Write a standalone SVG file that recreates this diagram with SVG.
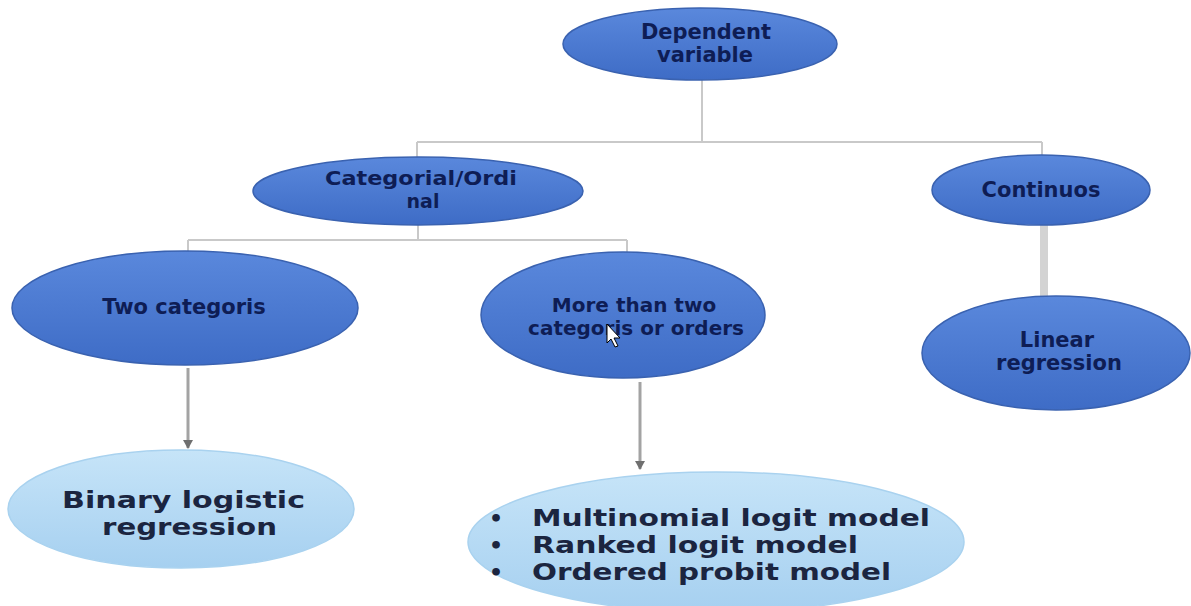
<svg xmlns="http://www.w3.org/2000/svg" width="1191" height="606" viewBox="0 0 1191 606">
<style>
.dark{stroke:#3a62b0;stroke-width:1.5}
.light{stroke:#a9d2ef;stroke-width:1.5}
.t{font-family:"DejaVu Sans","Liberation Sans",sans-serif;font-weight:bold;fill:#0e1d55;text-anchor:middle}
.b{font-family:"DejaVu Sans","Liberation Sans",sans-serif;font-weight:bold;fill:#1b2540}
.conn{stroke:#c9c9c9;stroke-width:2;fill:none}
.arr{stroke:#a3a3a3;stroke-width:3;fill:none}
</style>
<defs>
<linearGradient id="gBlue" x1="0" y1="0" x2="0" y2="1">
<stop offset="0" stop-color="#5a88dc"/>
<stop offset="1" stop-color="#3e6cc6"/>
</linearGradient>
<linearGradient id="gLight" x1="0" y1="0" x2="0" y2="1">
<stop offset="0" stop-color="#c6e4f8"/>
<stop offset="1" stop-color="#a6d0f0"/>
</linearGradient>
<marker id="ah" markerWidth="10" markerHeight="10" refX="8" refY="5" orient="auto" markerUnits="userSpaceOnUse" viewBox="0 0 10 10">
<path d="M0,0 L9,5 L0,10 Z" fill="#6f6f6f"/>
</marker>
</defs>
<rect width="1191" height="606" fill="#ffffff"/>
<g id="connectors">
<path class="conn" d="M702,80 V142 M417,142 H1042 M417,142 V157 M1042,142 V155"/>
<path class="conn" d="M418,225 V240 M188,240 H627 M188,240 V252 M627,240 V252"/>
<path d="M1044,225 V297" stroke="#d3d3d3" stroke-width="8" fill="none"/>
<path class="arr" d="M188,368 V448" marker-end="url(#ah)"/>
<path class="arr" d="M640,382 V469" marker-end="url(#ah)"/>
</g>
<g id="dependent">
<ellipse cx="700" cy="44" rx="137" ry="36" fill="url(#gBlue)" class="dark"/>
<text class="t" x="706" y="39" font-size="21">Dependent</text>
<text class="t" x="705" y="62" font-size="21">variable</text>
</g>
<g id="categorial">
<ellipse cx="418" cy="191" rx="165" ry="34" fill="url(#gBlue)" class="dark"/>
<text class="t" x="421" y="185" font-size="19" textLength="192" lengthAdjust="spacingAndGlyphs">Categorial/Ordi</text>
<text class="t" x="423" y="208" font-size="19">nal</text>
</g>
<g id="continuos">
<ellipse cx="1041" cy="190" rx="109" ry="35" fill="url(#gBlue)" class="dark"/>
<text class="t" x="1041" y="197" font-size="21">Continuos</text>
</g>
<g id="two">
<ellipse cx="185" cy="308" rx="173" ry="57" fill="url(#gBlue)" class="dark"/>
<text class="t" x="184" y="314" font-size="21">Two categoris</text>
</g>
<g id="more">
<ellipse cx="623" cy="315" rx="142" ry="63" fill="url(#gBlue)" class="dark"/>
<text class="t" x="634" y="312" font-size="20">More than two</text>
<text class="t" x="636" y="335" font-size="20">categoris or orders</text>
<path d="M607,324 L607,343 L611,339 L615,347 L618,346 L614,338 L620,338 Z" fill="#ffffff" stroke="#000000" stroke-width="1"/>
</g>
<g id="linear">
<ellipse cx="1056" cy="353" rx="134" ry="57" fill="url(#gBlue)" class="dark"/>
<text class="t" x="1057" y="347" font-size="21">Linear</text>
<text class="t" x="1059" y="370" font-size="21">regression</text>
</g>
<g id="binary">
<ellipse cx="181" cy="509" rx="173" ry="59" fill="url(#gLight)" class="light"/>
<text class="b" x="62" y="508" font-size="23" textLength="243" lengthAdjust="spacingAndGlyphs">Binary logistic</text>
<text class="b" x="102" y="535" font-size="23" textLength="175" lengthAdjust="spacingAndGlyphs">regression</text>
</g>
<g id="models">
<ellipse cx="716" cy="542" rx="248" ry="70" fill="url(#gLight)" class="light"/>
<text class="b" x="489" y="526" font-size="22">•</text>
<text class="b" x="489" y="553" font-size="22">•</text>
<text class="b" x="489" y="580" font-size="22">•</text>
<text class="b" x="532" y="526" font-size="23" textLength="398" lengthAdjust="spacingAndGlyphs">Multinomial logit model</text>
<text class="b" x="532" y="553" font-size="23" textLength="326" lengthAdjust="spacingAndGlyphs">Ranked logit model</text>
<text class="b" x="532" y="580" font-size="23" textLength="359" lengthAdjust="spacingAndGlyphs">Ordered probit model</text>
</g>
</svg>
